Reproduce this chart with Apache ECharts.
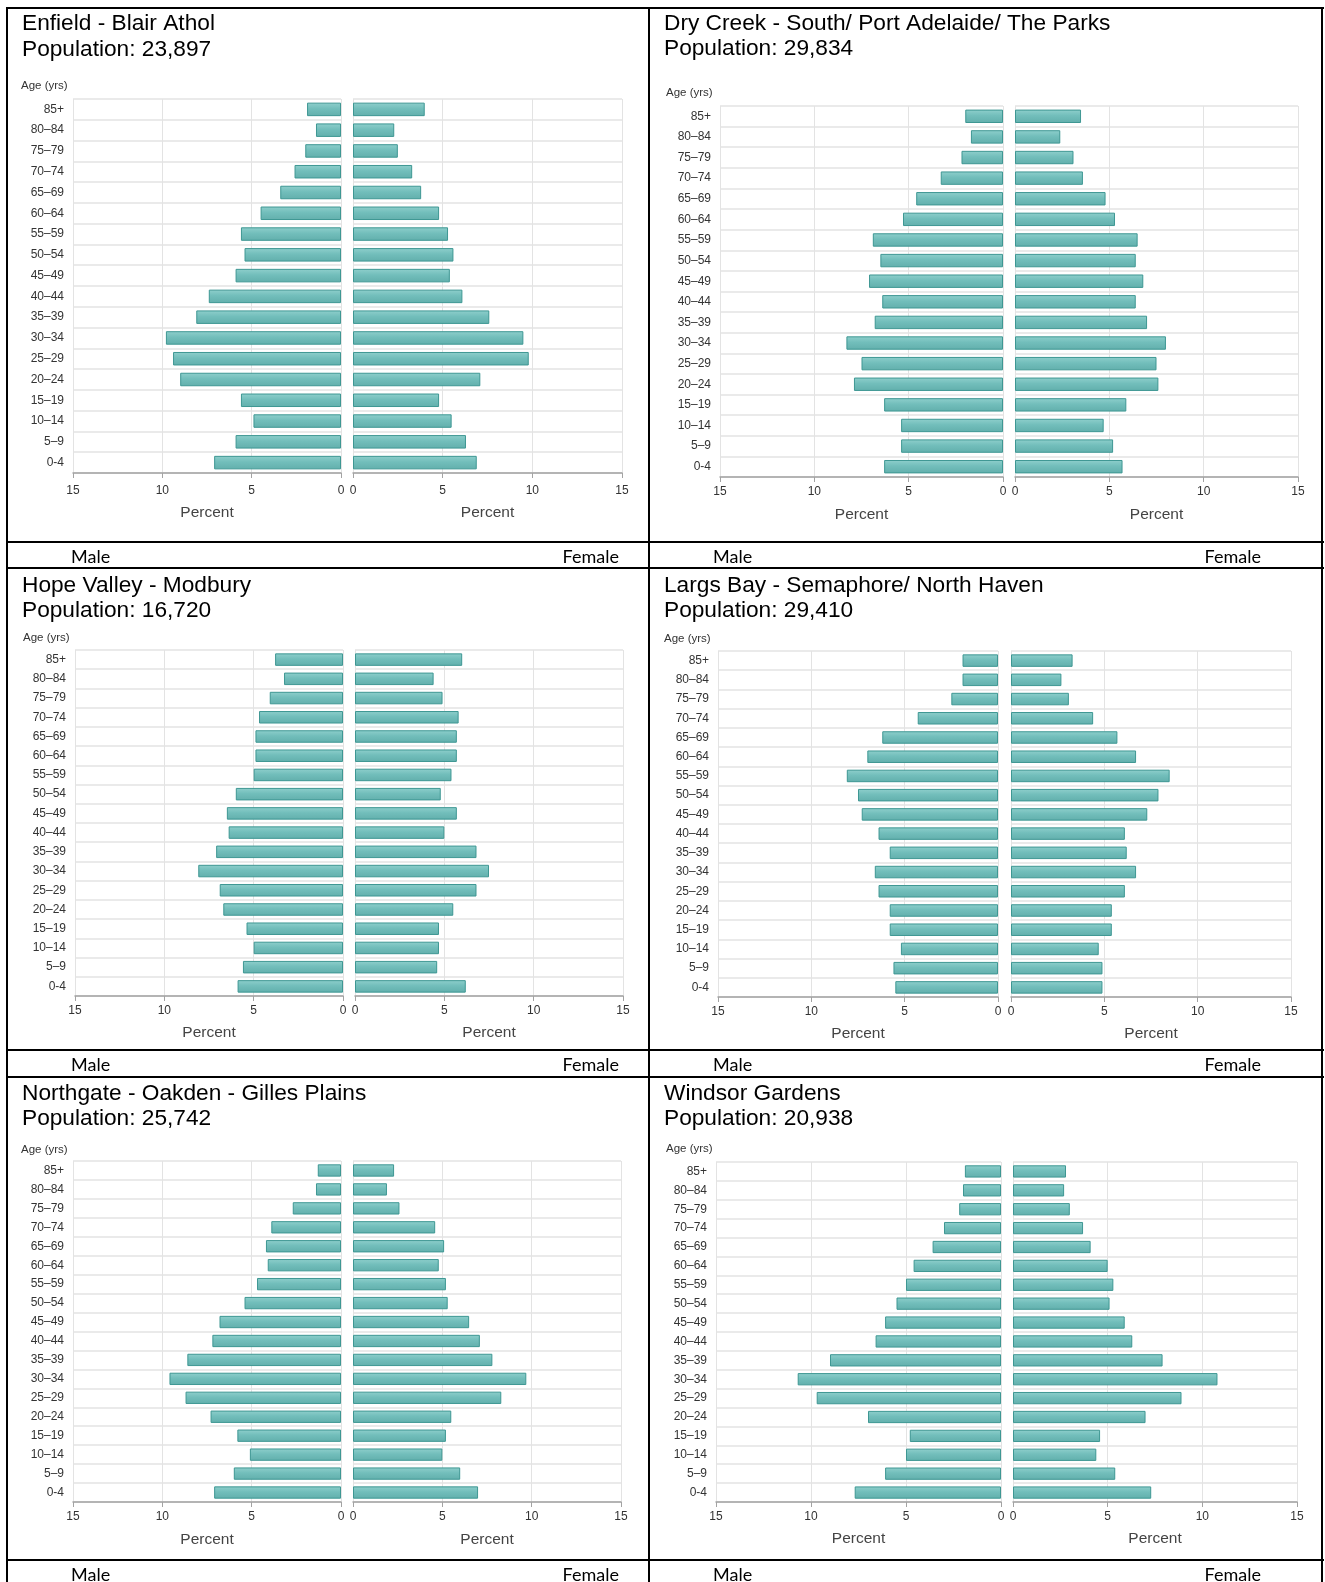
<!DOCTYPE html>
<html>
<head>
<meta charset="utf-8">
<script src="https://cdn.jsdelivr.net/npm/echarts@6/dist/echarts.min.js"></script>
<style>
html,body{margin:0;padding:0;background:#fff;}
#chart{width:1325px;height:1582px;}
</style>
</head>
<body>
<div id="chart"></div>
<script>
// ---- Data ----
const ageGroups = ['85+','80–84','75–79','70–74','65–69','60–64','55–59','50–54','45–49','40–44','35–39','30–34','25–29','20–24','15–19','10–14','5–9','0-4'];
const xMin = 0, xMax = 15, xInterval = 5;
const axisName = 'Percent';
const ageAxisTitle = 'Age (yrs)';
const maleLabel = 'Male';
const femaleLabel = 'Female';

const areaNames = ['Enfield - Blair Athol','Dry Creek - South/ Port Adelaide/ The Parks','Hope Valley - Modbury','Largs Bay - Semaphore/ North Haven','Northgate - Oakden - Gilles Plains','Windsor Gardens'];
const populations = ['23,897','29,834','16,720','29,410','25,742','20,938'];

const enfieldMale     = [1.9,1.4,2.0,2.6,3.4,4.5,5.6,5.4,5.9,7.4,8.1,9.8,9.4,9.0,5.6,4.9,5.9,7.1];
const enfieldFemale   = [4.0,2.3,2.5,3.3,3.8,4.8,5.3,5.6,5.4,6.1,7.6,9.5,9.8,7.1,4.8,5.5,6.3,6.9];
const dryCreekMale    = [2.0,1.7,2.2,3.3,4.6,5.3,6.9,6.5,7.1,6.4,6.8,8.3,7.5,7.9,6.3,5.4,5.4,6.3];
const dryCreekFemale  = [3.5,2.4,3.1,3.6,4.8,5.3,6.5,6.4,6.8,6.4,7.0,8.0,7.5,7.6,5.9,4.7,5.2,5.7];
const hopeValleyMale  = [3.8,3.3,4.1,4.7,4.9,4.9,5.0,6.0,6.5,6.4,7.1,8.1,6.9,6.7,5.4,5.0,5.6,5.9];
const hopeValleyFemale= [6.0,4.4,4.9,5.8,5.7,5.7,5.4,4.8,5.7,5.0,6.8,7.5,6.8,5.5,4.7,4.7,4.6,6.2];
const largsBayMale    = [1.9,1.9,2.5,4.3,6.2,7.0,8.1,7.5,7.3,6.4,5.8,6.6,6.4,5.8,5.8,5.2,5.6,5.5];
const largsBayFemale  = [3.3,2.7,3.1,4.4,5.7,6.7,8.5,7.9,7.3,6.1,6.2,6.7,6.1,5.4,5.4,4.7,4.9,4.9];
const northgateMale   = [1.3,1.4,2.7,3.9,4.2,4.1,4.7,5.4,6.8,7.2,8.6,9.6,8.7,7.3,5.8,5.1,6.0,7.1];
const northgateFemale = [2.3,1.9,2.6,4.6,5.1,4.8,5.2,5.3,6.5,7.1,7.8,9.7,8.3,5.5,5.2,5.0,6.0,7.0];
const windsorMale     = [1.9,2.0,2.2,3.0,3.6,4.6,5.0,5.5,6.1,6.6,9.0,10.7,9.7,7.0,4.8,5.0,6.1,7.7];
const windsorFemale   = [2.8,2.7,3.0,3.7,4.1,5.0,5.3,5.1,5.9,6.3,7.9,10.8,8.9,7.0,4.6,4.4,5.4,7.3];

const maleSeries   = [enfieldMale, dryCreekMale, hopeValleyMale, largsBayMale, northgateMale, windsorMale];
const femaleSeries = [enfieldFemale, dryCreekFemale, hopeValleyFemale, largsBayFemale, northgateFemale, windsorFemale];

// ---- Layout (pixels) ----
const layout = [
  {tx:22,  ty:24,   ax:21,  ay:86,   L:[73,341],   R:[353,622],   top:99,   bottom:473,  lm:12, py:513},
  {tx:664, ty:23.5, ax:666, ay:93,   L:[720,1003], R:[1015,1298], top:106,  bottom:477,  lm:9,  py:515},
  {tx:22,  ty:585.5,ax:23,  ay:638,  L:[75,343],   R:[355,623],   top:650,  bottom:996,  lm:9,  py:1033},
  {tx:664, ty:585.5,ax:664, ay:639,  L:[718,998],  R:[1011,1291], top:651,  bottom:997,  lm:9,  py:1034},
  {tx:22,  ty:1093.5,ax:21, ay:1150, L:[73,341],   R:[353,621],   top:1161, bottom:1502, lm:9,  py:1540},
  {tx:664, ty:1093.5,ax:666,ay:1149, L:[716,1001], R:[1013,1297], top:1162, bottom:1502, lm:9,  py:1539}
];
const genderRows = [
  {y:557,  mx:[71,713],  fx:[619,1261]},
  {y:1065, mx:[71,713],  fx:[619,1261]},
  {y:1575, mx:[71,713],  fx:[619,1261]}
];
const hLines = [8,542,568,1050,1077,1560];
const vLines = [7,649,1322];

const LABELFONT = "'Liberation Sans',Arial,sans-serif";
const TITLEFONT = "'Liberation Sans',Arial,sans-serif";
const GENDERFONT = "Lato,'Open Sans',sans-serif";
const gridColor = '#e3e3e3';
const barFill = new echarts.graphic.LinearGradient(0,0,0,1,[
  {offset:0,color:'#8fcfcc'},{offset:0.45,color:'#72bebb'},{offset:1,color:'#62afac'}]);

const grids = [], xAxes = [], yAxes = [], series = [], graphics = [];

layout.forEach((p, i) => {
  [['L', true], ['R', false]].forEach(([side, isMale]) => {
    const idx = grids.length;
    const g = p[side];
    grids.push({left:g[0], top:p.top, width:g[1]-g[0], height:p.bottom-p.top, containLabel:false});
    xAxes.push({
      type:'value', gridIndex:idx, min:xMin, max:xMax, interval:xInterval, inverse:isMale,
      axisLine:{show:true, lineStyle:{color:'#a3a3a3', width:1.5}},
      axisTick:{show:true, length:5, lineStyle:{color:'#a3a3a3'}},
      axisLabel:{fontFamily:LABELFONT, fontSize:12, color:'#333', margin:p.lm},
      splitLine:{show:true, lineStyle:{color:gridColor, width:1}},
      name:axisName, nameLocation:'middle', nameGap:p.py-p.bottom,
      nameTextStyle:{fontFamily:LABELFONT, fontSize:15.5, color:'#444', verticalAlign:'middle'}
    });
    yAxes.push({
      type:'category', gridIndex:idx, data:ageGroups, inverse:true,
      axisLine:{show:false}, axisTick:{show:false},
      axisLabel:{show:isMale, fontFamily:LABELFONT, fontSize:12, color:'#333', margin:9},
      splitLine:{show:true, lineStyle:{color:gridColor, width:1.5}}
    });
    series.push({
      type:'bar', xAxisIndex:idx, yAxisIndex:idx,
      data:isMale ? maleSeries[i] : femaleSeries[i],
      barWidth:'65%', silent:true,
      itemStyle:{color:barFill, borderColor:'#3e9793', borderWidth:1}
    });
  });
  graphics.push({type:'text', style:{text:areaNames[i], x:p.tx, y:p.ty, fontFamily:TITLEFONT, fontSize:22.7, fill:'#000', verticalAlign:'middle', align:'left'}});
  graphics.push({type:'text', style:{text:'Population: ' + populations[i], x:p.tx, y:p.ty+25.5, fontFamily:TITLEFONT, fontSize:22.7, fill:'#000', verticalAlign:'middle', align:'left'}});
  graphics.push({type:'text', style:{text:ageAxisTitle, x:p.ax, y:p.ay, fontFamily:LABELFONT, fontSize:11.5, fill:'#333', verticalAlign:'middle', align:'left'}});
});

genderRows.forEach(r => {
  r.mx.forEach(x => graphics.push({type:'text', style:{text:maleLabel, x:x, y:r.y, fontFamily:GENDERFONT, fontSize:18, fill:'#000', verticalAlign:'middle', align:'left'}}));
  r.fx.forEach(x => graphics.push({type:'text', style:{text:femaleLabel, x:x, y:r.y, fontFamily:GENDERFONT, fontSize:18, fill:'#000', verticalAlign:'middle', align:'right'}}));
});

hLines.forEach(y => graphics.push({type:'rect', shape:{x:6, y:y-1, width:1318, height:2}, style:{fill:'#000'}, z:100}));
vLines.forEach(x => graphics.push({type:'rect', shape:{x:x-1, y:7, width:2, height:1582}, style:{fill:'#000'}, z:100}));

const chart = echarts.init(document.getElementById('chart'), null, {renderer:'canvas'});
chart.setOption({
  backgroundColor:'#fff',
  animation:false,
  grid:grids, xAxis:xAxes, yAxis:yAxes, series:series, graphic:graphics
});
</script>
</body>
</html>
